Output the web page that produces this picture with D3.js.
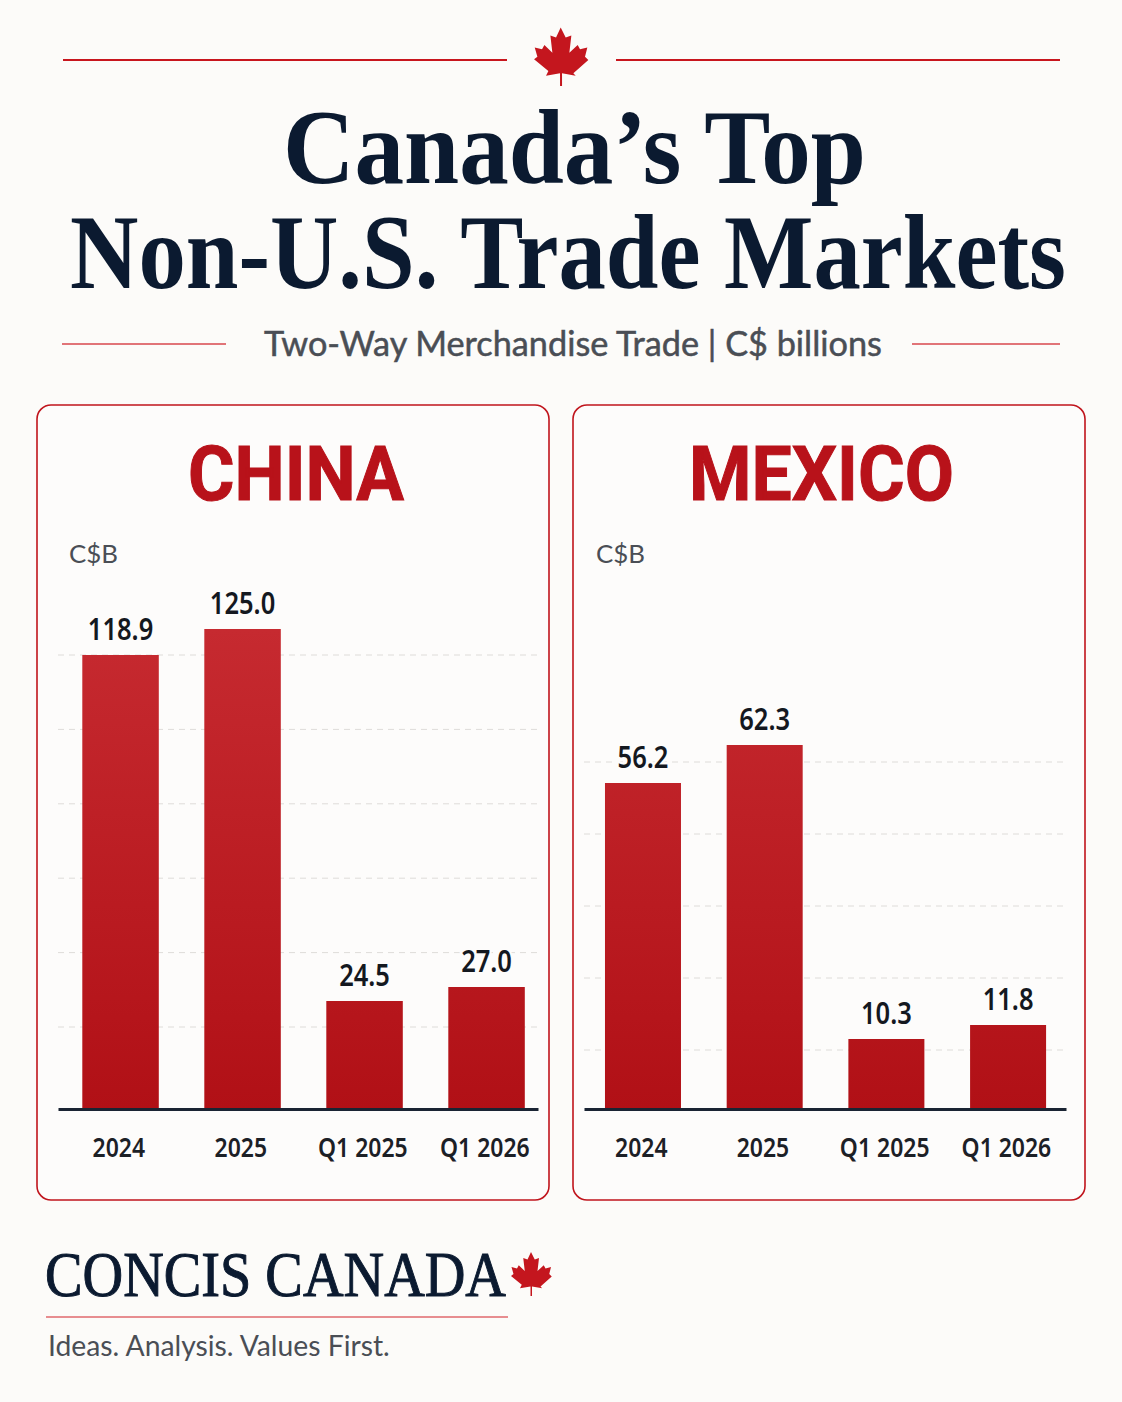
<!DOCTYPE html>
<html>
<head>
<meta charset="utf-8">
<script src="https://d3js.org/d3.v7.min.js"></script>
<style>
  html, body { margin: 0; padding: 0; background: #fcfbf9; }
  svg { display: block; }
</style>
</head>
<body>
<div id="chart"></div>
<script>
    // data
    var categories = ["2024", "2025", "Q1 2025", "Q1 2026"];
    var chinaValues = [118.9, 125.0, 24.5, 27.0];
    var mexicoValues = [56.2, 62.3, 10.3, 11.8];
    var chinaGridLines = [1, 2, 3, 4, 5, 6];
    var mexicoGridLines = [1, 2, 3, 4, 5];

    var svgWidth = 1122;
    var svgHeight = 1402;
    var baseline = 1109;

    var red = "#c0141c";
    var navy = "#0b1a30";
    var grey = "#4a4e55";
    var panelFill = "#fdfcfb";
    var serif = "'Liberation Serif', serif";
    var sans = "'Noto Sans', sans-serif";
    var lato = "Lato, sans-serif";

    var svg = d3.select("#chart")
        .append("svg")
        .attr("width", svgWidth)
        .attr("height", svgHeight);

    svg.append("rect")
        .attr("width", svgWidth)
        .attr("height", svgHeight)
        .attr("fill", "#fcfbf9");

    var defs = svg.append("defs");

    // one gradient for the whole plot height, so short bars stay dark
    var gradient = defs.append("linearGradient")
        .attr("id", "barFill")
        .attr("gradientUnits", "userSpaceOnUse")
        .attr("x1", 0).attr("y1", 629).attr("x2", 0).attr("y2", baseline);
    gradient.append("stop").attr("offset", "0%").attr("stop-color", "#c62a30");
    gradient.append("stop").attr("offset", "100%").attr("stop-color", "#b11016");

    // maple leaf outline, centred on 0,0
    defs.append("path")
        .attr("id", "leaf")
        .attr("d", "M0,-88 L15,-58 L32,-64 L26,-12 L51,-35 L58,-22 L80,-28 L73,0 L83,10 L38,50 L45,57 L4,50 L4,88 L-2,88 L-2,50 L-44,57 L-37,43 L-80,8 L-70,0 L-78,-28 L-56,-22 L-49,-35 L-25,-12 L-31,-64 L-14,-58 Z");

    // text stretched or squeezed to the width it has in the picture
    function addText(x0, x1, y, str, size, weight, family, color) {
        var label = svg.append("text")
            .attr("font-family", family)
            .attr("font-size", size)
            .attr("font-weight", weight)
            .attr("fill", color)
            .text(str);
        var natural = label.node().getComputedTextLength();
        label.attr("transform", `translate(${x0},${y}) scale(${(x1 - x0) / natural},1)`);
        return label;
    }

    function addRule(x0, x1, y, color, w) {
        svg.append("line")
            .attr("x1", x0).attr("x2", x1)
            .attr("y1", y).attr("y2", y)
            .attr("stroke", color)
            .attr("stroke-width", w);
    }

    // Header
    addRule(63, 507, 60, "#c8161e", 2);
    addRule(616, 1060, 60, "#c8161e", 2);
    svg.append("use")
        .attr("href", "#leaf")
        .attr("fill", "#c4161e")
        .attr("transform", "translate(560.7,56.7) scale(0.333)");

    addText(283, 866, 183, "Canada’s Top", 106, 700, serif, navy);
    addText(70, 1066, 288, "Non-U.S. Trade Markets", 106, 700, serif, navy);

    addRule(62, 226, 344, "#d9474d", 1.5);
    addRule(912, 1060, 344, "#d9474d", 1.5);
    addText(264, 882, 356, "Two-Way Merchandise Trade | C$ billions", 34, 400, lato, grey)
        .attr("stroke", grey)
        .attr("stroke-width", 0.5);

    // One panel: card, title, grid, bars, labels, axis
    function drawPanel(p) {
        svg.append("rect")
            .attr("x", p.left)
            .attr("y", 405)
            .attr("width", 512)
            .attr("height", 795)
            .attr("rx", 14)
            .attr("fill", panelFill)
            .attr("stroke", red)
            .attr("stroke-width", 1.6);

        addText(p.titleX[0], p.titleX[1], 500, p.name, 76, 700, "'Roboto', sans-serif", "#b8121a")
            .attr("stroke", "#b8121a")
            .attr("stroke-width", 1);
        addText(p.unitX, p.unitX + 49, 563, "C$B", 25, 400, lato, grey);

        var x = d3.scaleBand()
            .domain(categories)
            .range(p.axisRange)
            .paddingInner(p.paddingInner)
            .paddingOuter(p.paddingOuter)
            .align(p.align);

        // The picture's bars are not strictly proportional: short bars are drawn
        // taller than the long ones imply, so the scale is piecewise through each value.
        var y = d3.scaleLinear()
            .domain(p.stops)
            .range(p.stopPixels);

        var grid = d3.scaleLinear()
            .domain(p.gridDomain)
            .range(p.gridRange);

        svg.append("g")
            .selectAll("line")
            .data(p.gridLines)
            .join("line")
            .attr("x1", p.axisRange[0])
            .attr("x2", p.axisRange[1])
            .attr("y1", d => grid(d))
            .attr("y2", d => grid(d))
            .attr("stroke", "#dedcd9")
            .attr("stroke-width", 1)
            .attr("stroke-dasharray", "6 5");

        svg.append("g")
            .selectAll("rect")
            .data(p.values)
            .join("rect")
            .attr("x", (d, i) => x(categories[i]))
            .attr("y", d => y(d))
            .attr("width", x.bandwidth())
            .attr("height", d => baseline - y(d))
            .attr("fill", "url(#barFill)");

        svg.append("g")
            .selectAll("text")
            .data(p.values)
            .join("text")
            .attr("x", (d, i) => x(categories[i]) + x.bandwidth() / 2)
            .attr("y", d => y(d) - 15)
            .attr("text-anchor", "middle")
            .attr("font-family", sans)
            .attr("font-size", 30)
            .attr("font-weight", 600)
            .attr("fill", "#14181f")
            .attr("stroke", panelFill)
            .attr("stroke-width", 5)
            .attr("paint-order", "stroke")
            .attr("transform", (d, i) => {
                var cx = x(categories[i]) + x.bandwidth() / 2;
                return `translate(${cx},0) scale(0.85,1) translate(${-cx},0)`;
            })
            .text(d => d3.format(".1f")(d));

        var axis = svg.append("g")
            .attr("transform", `translate(0,${baseline})`)
            .call(d3.axisBottom(x).tickSize(0).tickPadding(29));

        axis.select(".domain")
            .attr("stroke", "#1a2433")
            .attr("stroke-width", 3);

        axis.selectAll("text")
            .attr("font-family", sans)
            .attr("font-size", 27)
            .attr("font-weight", 600)
            .attr("fill", "#1c2026")
            .attr("dx", -2)
            .attr("transform", "scale(0.85,1)");
    }

    drawPanel({
        name: "CHINA", left: 37, titleX: [188, 404], unitX: 69,
        values: chinaValues,
        axisRange: [58, 538], paddingInner: 0.373, paddingOuter: 0.1537, align: 0.648,
        stops: [0, 24.5, 27.0, 118.9, 125.0],
        stopPixels: [1109, 1001, 987, 655, 629],
        gridLines: chinaGridLines, gridDomain: [1, 6], gridRange: [1027, 655]
    });

    drawPanel({
        name: "MEXICO", left: 573, titleX: [689, 954], unitX: 596,
        values: mexicoValues,
        axisRange: [584, 1066], paddingInner: 0.3755, paddingOuter: 0.168, align: 0.513,
        stops: [0, 10.3, 11.8, 56.2, 62.3],
        stopPixels: [1109, 1039, 1025, 783, 745],
        gridLines: mexicoGridLines, gridDomain: [1, 5], gridRange: [1050, 762]
    });

    // Footer
    addText(45, 506, 1296, "CONCIS CANADA", 64, 400, serif, navy)
        .attr("stroke", navy)
        .attr("stroke-width", 1);
    svg.append("use")
        .attr("href", "#leaf")
        .attr("fill", "#c4161e")
        .attr("transform", "translate(531,1274) scale(0.25)");
    addRule(46, 508, 1317, "#e0686c", 1.5);
    addText(48, 390, 1356, "Ideas. Analysis. Values First.", 29, 400, lato, grey);
</script>
</body>
</html>
